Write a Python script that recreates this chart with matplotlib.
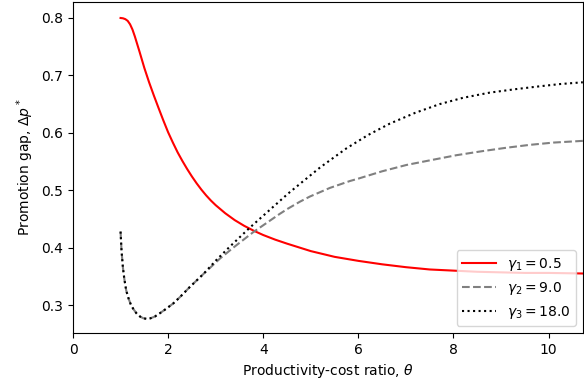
import matplotlib
matplotlib.use("Agg")
import matplotlib.pyplot as plt

# Promotion gap as a function of the productivity-cost ratio for three gamma values
theta_1 = [1.00, 1.05, 1.10, 1.15, 1.20, 1.25, 1.30, 1.40, 1.50, 1.60, 1.70, 1.80,
           1.90, 2.00, 2.10, 2.20, 2.30, 2.40, 2.50, 2.60, 2.70, 2.80, 2.90, 3.00,
           3.20, 3.40, 3.60, 3.80, 4.00, 4.25, 4.50, 4.75, 5.00, 5.50, 6.00, 6.50,
           7.00, 7.50, 8.00, 8.50, 9.00, 9.50, 10.00, 10.72]
gap_1 = [0.800, 0.7995, 0.798, 0.795, 0.789, 0.780, 0.768, 0.741, 0.713, 0.688, 0.665, 0.643,
         0.6215, 0.601, 0.583, 0.566, 0.551, 0.537, 0.524, 0.512, 0.501, 0.491, 0.482, 0.474,
         0.460, 0.448, 0.438, 0.4295, 0.422, 0.414, 0.407, 0.4005, 0.394, 0.384, 0.377, 0.371,
         0.366, 0.362, 0.360, 0.358, 0.357, 0.356, 0.356, 0.355]

theta_2 = [1.00, 1.02, 1.05, 1.08, 1.12, 1.17, 1.22, 1.27, 1.34, 1.41, 1.48, 1.55,
           1.63, 1.72, 1.83, 1.95, 2.11, 2.25, 2.45, 2.74, 3.09, 3.37, 3.79, 4.35,
           4.52, 4.77, 4.98, 5.40, 5.82, 5.99, 6.50, 7.01, 7.50, 8.06, 8.60, 9.11,
           9.60, 10.10, 10.72]
gap_2 = [0.428, 0.395, 0.365, 0.345, 0.325, 0.311, 0.300, 0.293, 0.285, 0.280, 0.277, 0.276,
         0.277, 0.280, 0.286, 0.293, 0.303, 0.314, 0.331, 0.354, 0.381, 0.400, 0.427, 0.459,
         0.468, 0.480, 0.489, 0.504, 0.516, 0.520, 0.533, 0.544, 0.552, 0.561, 0.568, 0.574,
         0.579, 0.583, 0.586]

theta_3 = [1.00, 1.02, 1.05, 1.08, 1.12, 1.17, 1.22, 1.27, 1.34, 1.41, 1.48, 1.55,
           1.63, 1.72, 1.83, 1.95, 2.11, 2.25, 2.45, 2.74, 3.02, 3.30, 3.44, 3.72,
           4.14, 4.52, 4.77, 5.20, 5.75, 6.20, 6.66, 7.20, 7.71, 8.20, 8.76, 9.30,
           9.81, 10.25, 10.72]
gap_3 = [0.428, 0.395, 0.365, 0.345, 0.325, 0.311, 0.300, 0.293, 0.285, 0.280, 0.277, 0.276,
         0.277, 0.280, 0.286, 0.293, 0.303, 0.314, 0.331, 0.354, 0.379, 0.402, 0.413, 0.435,
         0.466, 0.494, 0.511, 0.540, 0.573, 0.596, 0.616, 0.635, 0.650, 0.661, 0.670, 0.676,
         0.681, 0.685, 0.688]

labels = [r"$\gamma_1 = 0.5$", r"$\gamma_2 = 9.0$", r"$\gamma_3 = 18.0$"]

fig, ax = plt.subplots(figsize=(5.84, 3.83), dpi=100)
fig.subplots_adjust(left=0.125, right=0.998, top=0.995, bottom=0.13)

ax.plot(theta_1, gap_1, color="red", linestyle="-", linewidth=1.5, label=labels[0])
ax.plot(theta_2, gap_2, color="gray", linestyle="--", linewidth=1.5, label=labels[1])
ax.plot(theta_3, gap_3, color="black", linestyle=":", linewidth=1.5, label=labels[2])

ax.set_xlim(0, 10.72)
ax.set_ylim(0.251, 0.828)
ax.set_xticks([0, 2, 4, 6, 8, 10])
ax.set_yticks([0.3, 0.4, 0.5, 0.6, 0.7, 0.8])
ax.set_xlabel(r"Productivity-cost ratio, $\theta$")
ax.set_ylabel(r"Promotion gap, $\Delta p^*$")
ax.legend(loc="lower right", handlelength=2.4)

fig.savefig("out.png", dpi=100)
